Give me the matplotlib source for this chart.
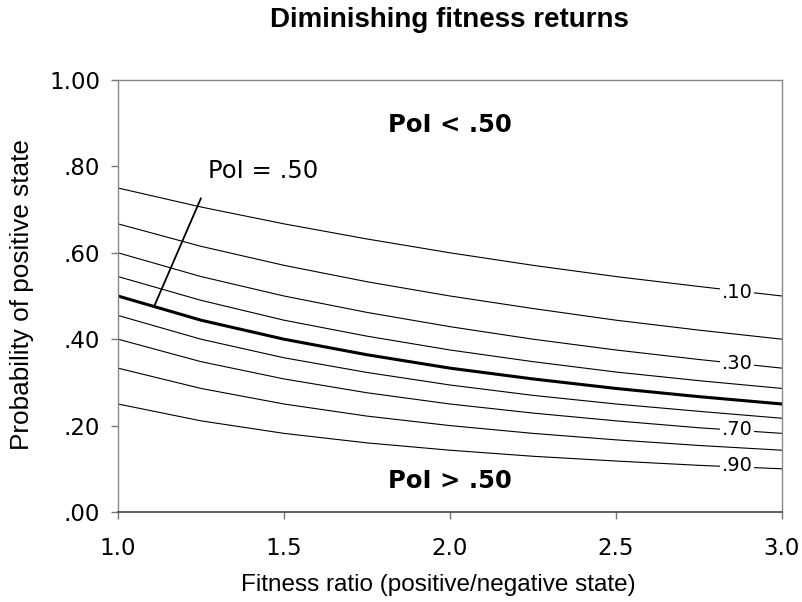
import matplotlib
matplotlib.use("Agg")
import matplotlib.pyplot as plt

# Data (fitness ratio vs probability of positive state)
x_ratio = [1.0, 1.25, 1.5, 1.75, 2.0, 2.25, 2.5, 2.75, 3.0]
poi_levels = [".10", ".20", ".30", ".40", ".50", ".60", ".70", ".80", ".90"]
curve_10 = [0.750, 0.706, 0.667, 0.632, 0.600, 0.571, 0.545, 0.522, 0.500]
curve_20 = [0.667, 0.615, 0.571, 0.533, 0.500, 0.471, 0.444, 0.421, 0.400]
curve_30 = [0.600, 0.545, 0.500, 0.462, 0.429, 0.400, 0.375, 0.353, 0.333]
curve_40 = [0.545, 0.490, 0.444, 0.407, 0.375, 0.348, 0.324, 0.304, 0.286]
curve_50 = [0.500, 0.444, 0.400, 0.364, 0.333, 0.308, 0.286, 0.267, 0.250]
curve_60 = [0.455, 0.400, 0.357, 0.323, 0.294, 0.270, 0.250, 0.233, 0.217]
curve_70 = [0.400, 0.348, 0.308, 0.276, 0.250, 0.229, 0.211, 0.195, 0.182]
curve_80 = [0.333, 0.286, 0.250, 0.222, 0.200, 0.182, 0.167, 0.154, 0.143]
curve_90 = [0.250, 0.211, 0.182, 0.160, 0.143, 0.129, 0.118, 0.108, 0.100]
curves = [curve_10, curve_20, curve_30, curve_40, curve_50,
          curve_60, curve_70, curve_80, curve_90]
labelled = {".10": 0.509, ".30": 0.343, ".70": 0.191, ".90": 0.108}
label_x = 2.865
x_ticks = [1.0, 1.5, 2.0, 2.5, 3.0]
x_tick_labels = ["1.0", "1.5", "2.0", "2.5", "3.0"]
y_ticks = [0.0, 0.2, 0.4, 0.6, 0.8, 1.0]
y_tick_labels = [".00", ".20", ".40", ".60", ".80", "1.00"]

plt.rcParams['font.family'] = ['DejaVu Sans']
fig = plt.figure(figsize=(8.03, 6.02), dpi=100)
ax = fig.add_axes([118/803, 1-512/602, (782-118)/803, (512-80)/602])

for name, vals in zip(poi_levels, curves):
    lw = 2.2 if name == ".50" else 0.8
    ax.plot(x_ratio, vals, color='black', lw=lw, solid_capstyle='butt', zorder=2)

for name, yv in labelled.items():
    ax.text(label_x, yv, name, fontsize=14, ha='center', va='center',
            bbox=dict(facecolor='white', edgecolor='none', pad=1.0), zorder=3)

ax.annotate("PoI = .50", xy=(1.11, 0.478), xytext=(1.27, 0.79),
            fontsize=17.5, ha='left', va='center',
            arrowprops=dict(arrowstyle='-', color='black', lw=1.3,
                            shrinkA=10, shrinkB=0, relpos=(0.0, 0.0)))

ax.text(2.0, 0.895, "PoI < .50", fontsize=17.5, fontweight='bold', ha='center', va='center')
ax.text(2.0, 0.072, "PoI > .50", fontsize=17.5, fontweight='bold', ha='center', va='center')

ax.set_xlim(1.0, 3.0)
ax.set_ylim(0.0, 1.0)
ax.set_xticks(x_ticks)
ax.set_xticklabels(x_tick_labels)
ax.set_yticks(y_ticks)
ax.set_yticklabels(y_tick_labels)
ax.tick_params(axis='both', labelsize=16.5, color='#777777', length=5, width=1)
ax.tick_params(axis='x', pad=13)
ax.tick_params(axis='y', pad=8)

for side in ['top', 'right', 'left']:
    ax.spines[side].set_color('#888888')
    ax.spines[side].set_linewidth(1.0)
ax.spines['bottom'].set_color('#444444')
ax.spines['bottom'].set_linewidth(1.2)

fig.text(438/803, 1-585/602, "Fitness ratio (positive/negative state)", fontsize=17.5,
         family=['Liberation Sans'], ha='center', va='center')
fig.text(22/803, 1-295/602, "Probability of positive state", fontsize=18.8,
         family=['Liberation Sans'], ha='center', va='center', rotation=90)

fig.text(449/803, 1-20/602, "Diminishing fitness returns", fontsize=20,
         fontweight='bold', family=['Liberation Sans'], ha='center', va='center')

fig.savefig("out.png", dpi=100)
